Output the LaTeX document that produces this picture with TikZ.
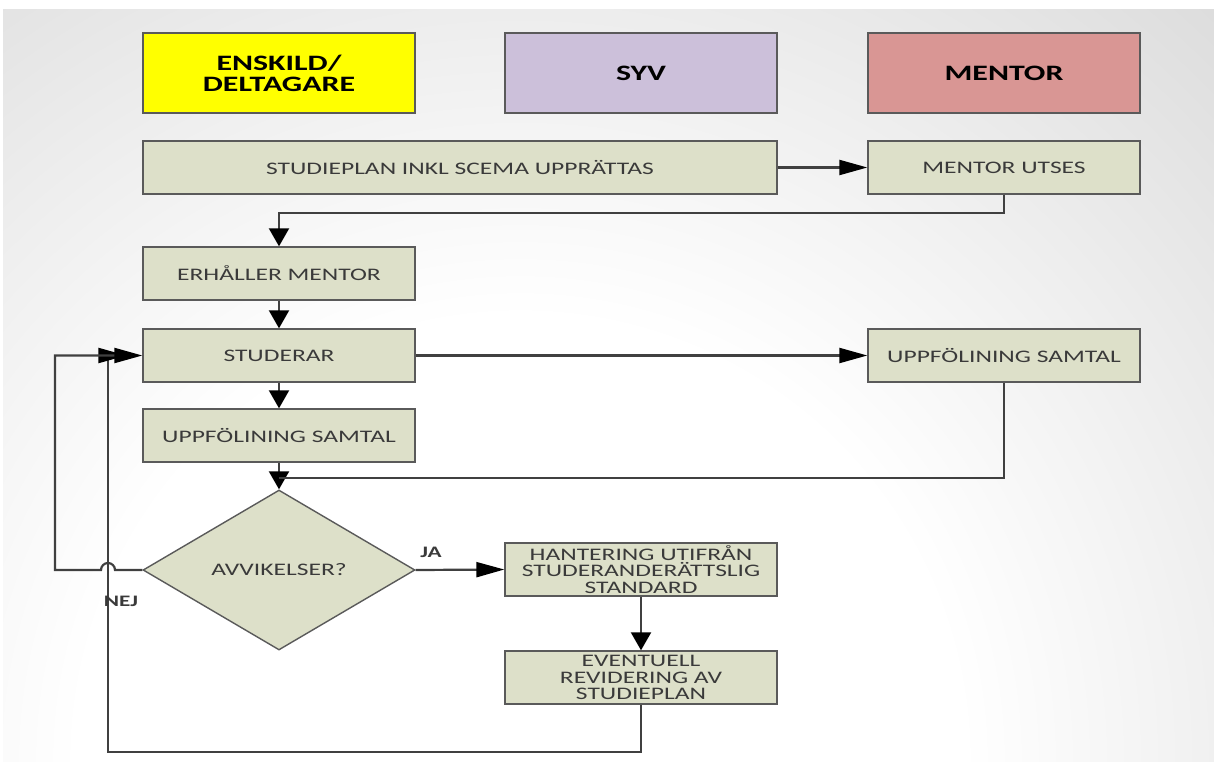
\documentclass[tikz,border=0pt]{standalone}
\usepackage{fontspec}
\setmainfont{Carlito}[FakeStretch=1.45]
\usetikzlibrary{shapes.geometric,arrows.meta}

\definecolor{boxfill}{HTML}{DDE0C9}
\definecolor{boxline}{HTML}{5A5A5A}
\definecolor{wire}{HTML}{404040}
\definecolor{txt}{HTML}{3A3A3A}
\definecolor{hdryellow}{HTML}{FFFF00}
\definecolor{hdrlilac}{HTML}{CCC0DA}
\definecolor{hdrrose}{HTML}{D99694}
\definecolor{bggray}{HTML}{DCDCDC}

% soft light spot behind the chart, radius 50bp before scaling
\pgfdeclareradialshading{bgglow}{\pgfpoint{0bp}{0bp}}{%
  color(0bp)=(white); color(20bp)=(white); color(47bp)=(bggray); color(50bp)=(bggray)}

\tikzset{
  hdr/.style={draw=boxline, line width=1.4pt, minimum width=272pt, minimum height=80pt,
    inner sep=0pt, align=center, text=black,
    font=\bfseries\fontsize{22}{21}\selectfont},
  stepbox/.style={draw=boxline, line width=1.4pt, fill=boxfill, minimum width=272pt,
    minimum height=53pt, inner sep=0pt, align=center, text=txt,
    font=\fontsize{17.6}{16.5}\selectfont},
  widebox/.style={stepbox, minimum width=634pt},
  decision/.style={diamond, draw=boxline, line width=1.4pt, fill=boxfill, inner sep=0pt,
    minimum width=272pt, minimum height=160pt, text=txt,
    font=\fontsize{17.6}{16.5}\selectfont},
  wireline/.style={draw=wire, line width=2.2pt},
  harrow/.style={wireline, -{Triangle[length=28pt,width=15pt,color=black]}},
  varrow/.style={wireline, -{Triangle[length=18pt,width=20pt,color=black]}},
  tag/.style={text=txt, font=\bfseries\fontsize{16}{16}\selectfont, inner sep=0pt},
}

\begin{document}
\begin{tikzpicture}[x=1pt, y=-1pt]
  \useasboundingbox (0,0) rectangle (1214,762);
  \fill[white] (0,0) rectangle (1214,762);
  \begin{scope}
    \clip (3,10) rectangle (1214,762);
    \fill[bggray] (3,10) rectangle (1214,762);
    \begin{scope}
      \pgftransformshift{\pgfpoint{520pt}{-760pt}}
      \pgftransformscale{22}
      \pgflowlevelsynccm
      \pgfuseshading{bgglow}
    \end{scope}
  \end{scope}

  % column headers
  \node[hdr, fill=hdryellow] (h1) at (279,73) {ENSKILD/\\DELTAGARE};
  \node[hdr, fill=hdrlilac]  (h2) at (641,73) {SYV};
  \node[hdr, fill=hdrrose]   (h3) at (1004,73) {MENTOR};

  % process steps
  \node[widebox] (plan)  at (460,167.5) {STUDIEPLAN INKL SCEMA UPPRÄTTAS};
  \node[stepbox] (utses) at (1004,167.5) {MENTOR UTSES};
  \node[stepbox] (erh)   at (279,273.5) {ERHÅLLER MENTOR};
  \node[stepbox] (stud)  at (279,355.5) {STUDERAR};
  \node[stepbox] (upp1)  at (279,435.5) {UPPFÖLINING SAMTAL};
  \node[stepbox] (upp2)  at (1004,355.5) {UPPFÖLINING SAMTAL};
  \node[decision] (dev)  at (279,570) {AVVIKELSER?};
  \node[stepbox] (hant)  at (641,569.5) {HANTERING UTIFRÅN\\STUDERANDERÄTTSLIG\\STANDARD};
  \node[stepbox] (rev)   at (641,677.5) {EVENTUELL\\REVIDERING AV\\STUDIEPLAN};

  % routing points
  \coordinate (c1) at (1004,213);
  \coordinate (c2) at (279,478);
  \coordinate (c3) at (108,752);
  \coordinate (c4) at (108,355.5);
  \coordinate (c5) at (55,570);
  \coordinate (c6) at (55,355.5);

  % connectors
  \draw[harrow] (plan.east) -- (utses.west);
  \draw[varrow] (utses.south) -- (c1) -| (erh.north);
  \draw[varrow] (erh.south) -- (stud.north);
  \draw[varrow] (stud.south) -- (upp1.north);
  \draw[varrow] (upp1.south) -- (dev.north);
  \draw[harrow] (stud.east) -- (upp2.west);
  \draw[wireline] (upp2.south) |- (c2);
  \draw[harrow] (dev.east) -- (hant.west);
  \draw[varrow] (hant.south) -- (rev.north);
  \draw[harrow, shorten >=16pt] (rev.south) |- (c3) -- (c4) -- (stud.west);
  \draw[harrow] (dev.west) -- (115,570) arc[start angle=0, end angle=-180, radius=7]
    -- (c5) -- (c6) -- (stud.west);

  % branch labels
  \node[tag] (ja)  at (431,552) {JA};
  \node[tag] (nej) at (121,601) {NEJ};
\end{tikzpicture}
\end{document}
